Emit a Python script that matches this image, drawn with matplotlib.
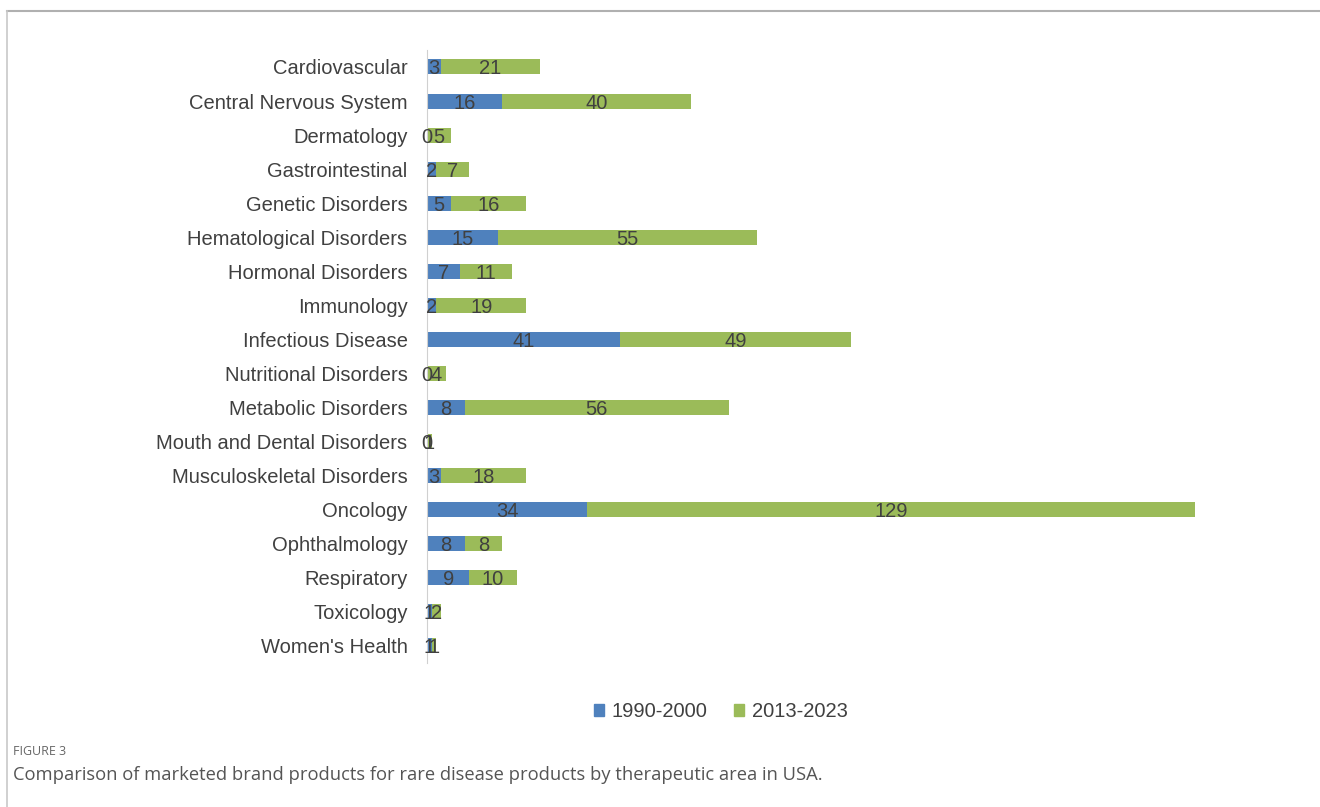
import matplotlib
matplotlib.use("Agg")
import matplotlib.pyplot as plt
from matplotlib.patches import Patch

areas = ["Cardiovascular", "Central Nervous System", "Dermatology", "Gastrointestinal",
         "Genetic Disorders", "Hematological Disorders", "Hormonal Disorders", "Immunology",
         "Infectious Disease", "Nutritional Disorders", "Metabolic Disorders",
         "Mouth and Dental Disorders", "Musculoskeletal Disorders", "Oncology",
         "Ophthalmology", "Respiratory", "Toxicology", "Women's Health"]
early = [3, 16, 0, 2, 5, 15, 7, 2, 41, 0, 8, 0, 3, 34, 8, 9, 1, 1]
late = [21, 40, 5, 7, 16, 55, 11, 19, 49, 4, 56, 1, 18, 129, 8, 10, 2, 1]
series_names = ["1990-2000", "2013-2023"]

blue = "#4f81bd"
green = "#9bbb59"
txt = "#404040"
chart_font = ["Liberation Sans", "DejaVu Sans"]

fig = plt.figure(figsize=(13.2, 8.07), dpi=100)
ax = fig.add_axes([0.3235, 0.1785, 0.6424, 0.7596])

y = list(range(len(areas)))
ax.barh(y, early, height=0.44, color=blue)
ax.barh(y, late, left=early, height=0.44, color=green)

for i in y:
    ax.text(early[i] / 2, i, str(early[i]), ha="center", va="center_baseline",
            fontsize=14.5, color=txt, family=chart_font)
    ax.text(early[i] + late[i] / 2, i, str(late[i]), ha="center", va="center_baseline",
            fontsize=14.5, color=txt, family=chart_font)

ax.set_xlim(0, 180)
ax.set_ylim(len(areas) - 0.5, -0.5)
ax.set_yticks(y)
ax.set_yticklabels(areas, fontsize=14.5, color=txt, family=chart_font)
ax.tick_params(axis="y", length=0, pad=14)
ax.set_xticks([])
for s in ["top", "right", "bottom"]:
    ax.spines[s].set_visible(False)
ax.spines["left"].set_color("#d0d0d0")

handles = [Patch(color=blue), Patch(color=green)]
fig.legend(handles, series_names, loc="center", bbox_to_anchor=(0.546, 0.118),
           ncol=2, frameon=False, handlelength=0.5, handleheight=0.5,
           handletextpad=0.4, columnspacing=1.3,
           prop={"family": chart_font, "size": 14.5}, labelcolor=txt)

# frame around the figure panel
fig.add_artist(plt.Line2D([0.0053, 1.0], [0.986, 0.986], color="#b0b0b0", lw=1.5))
fig.add_artist(plt.Line2D([0.0053, 0.0053], [0.0, 0.986], color="#c8c8c8", lw=1.2))

fig.text(0.0098, 0.064, "FIGURE 3", fontsize=9, color="#666666", family="Open Sans")
fig.text(0.0098, 0.033, "Comparison of marketed brand products for rare disease products by therapeutic area in USA.",
         fontsize=13.2, color="#555555", family="Open Sans")

fig.savefig("out.png", dpi=100)
